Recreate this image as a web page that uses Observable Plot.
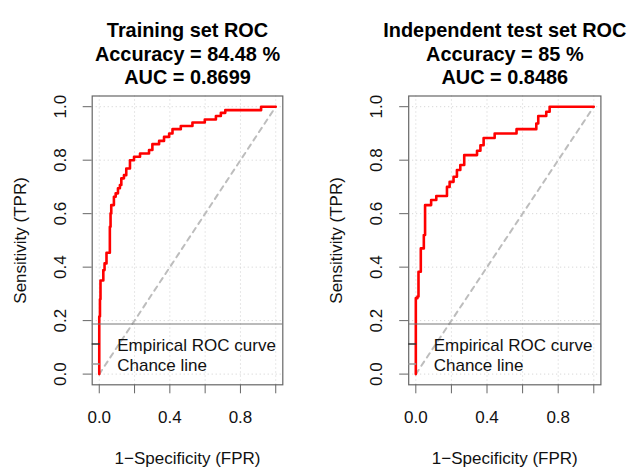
<!DOCTYPE html>
<html>
<head>
<meta charset="utf-8">
<script src="https://cdn.jsdelivr.net/npm/d3@7"></script>
<script src="https://cdn.jsdelivr.net/npm/@observablehq/plot@0.6"></script>
<style>
  html, body { margin: 0; padding: 0; background: #fff; }
  #wrap { display: flex; width: 627px; height: 467px; }
  #wrap svg { display: block; }
</style>
</head>
<body>
<div id="wrap"></div>
<script>
// ---- data ----
const trainFPR = [0, 0.004, 0.007, 0.023, 0.030, 0.041, 0.060, 0.064, 0.068, 0.083, 0.093, 0.106, 0.117, 0.125, 0.140, 0.153, 0.174, 0.197, 0.231, 0.282, 0.301, 0.339, 0.367, 0.396, 0.415, 0.462, 0.528, 0.598, 0.661, 0.689, 0.714, 0.917, 1];
const trainTPR = [0, 0.215, 0.280, 0.350, 0.389, 0.414, 0.454, 0.551, 0.601, 0.632, 0.663, 0.676, 0.695, 0.707, 0.732, 0.744, 0.769, 0.800, 0.813, 0.825, 0.838, 0.860, 0.872, 0.887, 0.900, 0.916, 0.928, 0.941, 0.952, 0.965, 0.977, 0.987, 1];
const testFPR = [0, 0.009, 0.015, 0.028, 0.045, 0.052, 0.086, 0.115, 0.175, 0.190, 0.212, 0.231, 0.250, 0.272, 0.344, 0.363, 0.381, 0.443, 0.566, 0.677, 0.688, 0.733, 0.752, 1];
const testTPR = [0, 0.284, 0.290, 0.383, 0.470, 0.520, 0.632, 0.651, 0.666, 0.700, 0.719, 0.738, 0.763, 0.782, 0.819, 0.835, 0.856, 0.883, 0.900, 0.916, 0.937, 0.965, 0.981, 1];
const chanceX = [0, 1];
const chanceY = [0, 1];
const xTicks = [0, 0.2, 0.4, 0.6, 0.8, 1.0];
const xTickLabels = [0, 0.4, 0.8];
const yTicks = [0, 0.2, 0.4, 0.6, 0.8, 1.0];
const legendLabels = ["Empirical ROC curve", "Chance line"];
const panels = [
  {title: ["Training set ROC", "Accuracy = 84.48 %", "AUC = 0.8699"], fpr: trainFPR, tpr: trainTPR},
  {title: ["Independent test set ROC", "Accuracy = 85 %", "AUC = 0.8486"], fpr: testFPR, tpr: testTPR}
];
const xLabel = "1\u2212Specificity (FPR)";
const yLabel = "Sensitivity (TPR)";

// ---- layout ----
const layouts = [
  {width: 313, marginLeft: 91.7, marginRight: 30.7},
  {width: 314, marginLeft: 95.2, marginRight: 26.6}
];
const H = 467, MT = 95.5, MB = 82.7;
const FONT = "'Liberation Sans', Arial, sans-serif";
const FS = 17;
const TFS = 19.9;
const TXT = "#111";

function panel(p, L) {
  const idx = p.fpr.map((d, i) => i);
  const svg = Plot.plot({
    width: L.width, height: H,
    marginLeft: L.marginLeft, marginRight: L.marginRight, marginTop: MT, marginBottom: MB,
    style: {fontFamily: FONT, fontSize: FS + "px", color: "#666", background: "white", overflow: "visible"},
    x: {domain: [-0.04, 1.04], ticks: xTicks, tickSize: 9, tickFormat: () => "", label: null},
    y: {domain: [-0.04, 1.04], ticks: yTicks, tickSize: 9, tickFormat: () => "", label: null},
    marks: [
      Plot.ruleX(xTicks, {x: d => d, stroke: "#cfcfcf", strokeDasharray: "1,3", strokeWidth: 1}),
      Plot.ruleY(yTicks, {y: d => d, stroke: "#cfcfcf", strokeDasharray: "1,3", strokeWidth: 1}),
      Plot.line([0, 1], {x: i => chanceX[i], y: i => chanceY[i], stroke: "#bdbdbd", strokeWidth: 2, strokeDasharray: "5,5"}),
      Plot.line(idx, {x: i => p.fpr[i], y: i => p.tpr[i], curve: "step-before", stroke: "#ff0000", strokeWidth: 2.6}),
      Plot.frame({stroke: "#666", strokeWidth: 1.2}),
      // tick labels
      Plot.text(xTickLabels, {x: d => d, frameAnchor: "bottom", dy: 33, text: d => d.toFixed(1), fill: TXT, lineAnchor: "middle"}),
      Plot.text(yTicks, {y: d => d, frameAnchor: "left", dx: -31.7, rotate: -90, text: d => d.toFixed(1), fill: TXT, textAnchor: "middle", lineAnchor: "middle"}),
      // axis titles
      Plot.text([xLabel], {frameAnchor: "bottom", dy: 74, text: d => d, fill: TXT, lineAnchor: "middle"}),
      Plot.text([yLabel], {frameAnchor: "left", dx: -71.7, rotate: -90, text: d => d, fill: TXT, textAnchor: "middle", lineAnchor: "middle"}),
      // titles
      Plot.text([p.title[0]], {frameAnchor: "top", dy: -65.5, text: d => d, fill: "#000", fontWeight: "bold", fontSize: TFS, lineAnchor: "middle"}),
      Plot.text([p.title[1]], {frameAnchor: "top", dy: -41.5, text: d => d, fill: "#000", fontWeight: "bold", fontSize: TFS, lineAnchor: "middle"}),
      Plot.text([p.title[2]], {frameAnchor: "top", dy: -18.5, text: d => d, fill: "#000", fontWeight: "bold", fontSize: TFS, lineAnchor: "middle"}),
      // legend text
      Plot.text([legendLabels[0]], {frameAnchor: "bottom-left", dx: 25, dy: -39.5, text: d => d, fill: TXT, textAnchor: "start", lineAnchor: "middle"}),
      Plot.text([legendLabels[1]], {frameAnchor: "bottom-left", dx: 25, dy: -19.5, text: d => d, fill: TXT, textAnchor: "start", lineAnchor: "middle"})
    ]
  });
  // legend box top edge (clipped to plot region) and line samples
  const s = d3.select(svg);
  const x0 = L.marginLeft, x1 = L.width - L.marginRight, yb = H - MB;
  const g = s.append("g");
  g.append("line").attr("x1", x0).attr("x2", x1).attr("y1", yb - 60.3).attr("y2", yb - 60.3)
    .attr("stroke", "#777").attr("stroke-width", 1.2);
  g.append("line").attr("x1", x0).attr("x2", x0 + 8).attr("y1", yb - 40.3).attr("y2", yb - 40.3)
    .attr("stroke", "#333").attr("stroke-width", 1.5);
  g.append("line").attr("x1", x0).attr("x2", x0 + 8).attr("y1", yb - 20.3).attr("y2", yb - 20.3)
    .attr("stroke", "#999").attr("stroke-width", 1.5);
  return svg;
}

const wrap = document.getElementById("wrap");
panels.forEach((p, i) => wrap.appendChild(panel(p, layouts[i])));
</script>
</body>
</html>
